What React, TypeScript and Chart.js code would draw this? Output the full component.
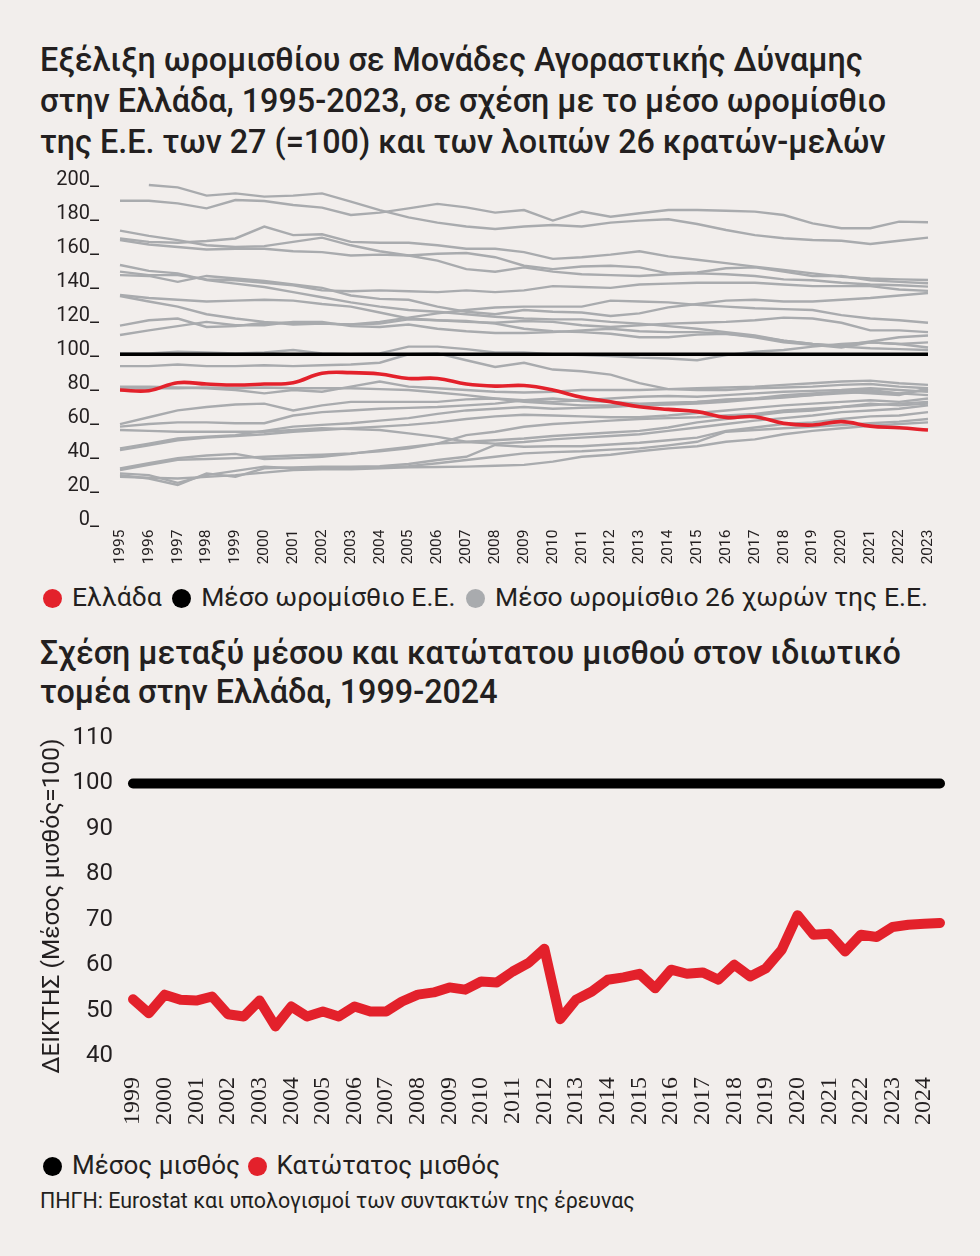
import React, { useEffect, useRef } from "react";
import { Chart, registerables } from "chart.js";

Chart.register(...registerables);

// ---------- Chart 1: hourly wage in PPS, EU27 = 100 ----------
const years1 = ["1995","1996","1997","1998","1999","2000","2001","2002","2003","2004","2005","2006","2007","2008","2009","2010","2011","2012","2013","2014","2015","2016","2017","2018","2019","2020","2021","2022","2023"];
const yTicks1 = [0, 20, 40, 60, 80, 100, 120, 140, 160, 180, 200];

const greece = [79, 78.6, 83.3, 82.5, 81.9, 82.5, 83.3, 88.8, 89.2, 88.4, 85.8, 85.8, 82.5, 81.3, 81.6, 79, 74.7, 72.1, 69.2, 67.6, 66.3, 62.9, 63.3, 59.4, 58.4, 60.4, 57.8, 56.8, 55.5];
const euAverage = [100,100,100,100,100,100,100,100,100,100,100,100,100,100,100,100,100,100,100,100,100,100,100,100,100,100,100,100,100];

const cA = [null, 199.4, 198, 193.2, 194.5, 192.6, 193.2, 194.5, 189.6, 184.7, 180.4, 177.3, 175, 173.6, 175, 175.9, 175, 177.3, 178.5, 179.3, 176.5, 173, 170, 168.1, 167.1, 166.7, 164.8, 166.7, 168.5];
const cB = [190.2, 190.2, 188.6, 185.7, 190.6, 190, 187.7, 186.1, 181.8, 183.2, 185.7, 188.3, 186.3, 183.2, 184.7, 178.5, 183.8, 180.8, 182.8, 184.7, 184.7, 184.3, 183.8, 181.8, 176.9, 174, 174, 177.9, 177.5];
const cC = [172.6, 169.5, 167, 164, 163, 163.5, 166, 168.5, 164, 160.5, 158, 155, 150, 148.5, 151, 148.5, 147, 146.5, 146, 147, 147.5, 147, 146, 144, 143.5, 142, 141, 140.5, 139.7];
const cD = [168, 166, 165.5, 166.5, 168, 175, 170, 170.5, 166, 165.5, 165.5, 164, 162, 162, 160, 156, 157, 158.5, 160.5, 157.5, 155.5, 153.5, 151.5, 149.5, 147.5, 145.5, 144.5, 144, 143.6];
const cE = [167, 164.5, 163, 161.5, 162, 162, 160.5, 160, 158, 158.5, 158, 159, 159.5, 157, 152, 150, 151.5, 152, 151, 147.5, 148, 150.5, 151, 148.5, 146, 146, 143.5, 142.5, 141.7];
const cF = [152.4, 149, 147.5, 143.5, 141.5, 139.5, 136.5, 133.5, 130.5, 128, 126, 125, 123.5, 122, 121, 120.5, 120.5, 119, 118, 116.5, 115, 113, 111, 108, 106, 104.5, 103.5, 103, 102.5];
const cG = [148.5, 146.5, 146.5, 144, 143.5, 142, 140.5, 137.5, 137, 137.5, 137, 136.5, 137.5, 136.5, 137.5, 140, 139.5, 139, 141, 141.5, 142, 142, 142, 141, 140, 140, 140, 138, 137.2];
const cH = [146.5, 146, 142.5, 146, 144.5, 143, 141, 139, 134.5, 132.5, 132, 128, 125, 123.5, 126, 125, 124.5, 122.5, 124, 127.5, 129.5, 131.5, 132, 131, 131, 132, 133, 134.5, 136];
const cI = [134.8, 133, 132, 131, 131.5, 132, 131.5, 129.5, 128, 124.5, 121, 120, 119.5, 118, 115, 113.5, 113, 112, 110, 110, 111.5, 112, 110, 107, 105.5, 104, 107, 106, 104];
const cJ = [134.2, 131, 128, 123.5, 121, 119, 117.5, 118, 117.5, 119, 121.5, 124, 126, 127.5, 128, 128, 128, 131.5, 131, 130.5, 129, 128, 127, 126.5, 126, 123, 121, 120, 118.5];
const cK = [116.8, 120, 121, 116, 116.5, 118.5, 118.5, 118, 117.5, 118, 120.5, 120, 119, 118.5, 119.5, 119, 117, 116, 117, 118, 118.5, 119, 120, 121.5, 121, 118.5, 114, 114, 113];
const cL = [111.3, 114, 116.5, 119, 117, 117, 119, 119, 116.5, 116, 117.5, 115, 113.5, 112.5, 112.5, 113, 114, 115, 113.5, 113, 113, 112, 110.5, 108, 106, 105, 107.5, 110, 111];
const cM = [100.5, 100.5, 101.5, 101, 100.5, 101, 102.5, 100.5, 100, 100.5, 104.5, 104.5, 103, 101, 101, 100, 99.5, 99, 98, 97.5, 96.5, 99.5, 101.5, 102.5, 104.5, 106, 107, 106, 107];
const cN = [93, 93, 94, 93, 93, 93.5, 93, 93.5, 94, 95, 100, 100.5, 96.5, 92.5, 95, 91, 90, 88, 83, 79.5, 79, 79, 80, 80.5, 81, 82, 82.5, 81, 80];
const cP1 = [81, 81, 80.5, 80, 79, 77, 79, 78, 81, 84, 81, 80, 79, 78, 77.5, 78, 79, 79, 79, 79.5, 80, 80.5, 81, 82, 83, 84, 84.5, 83, 82];
const cP2 = [80, 80, 80, 80.5, 80, 80.5, 80, 80, 80, 79.5, 79, 77.5, 76, 74, 73, 72, 73, 74, 75, 75.5, 75, 76, 77, 78, 78.5, 79, 80, 79, 78];
const cP3 = [59, 63, 67, 69, 70.5, 71, 67, 70, 72, 72, 72, 72, 73.5, 74, 72, 71, 70, 70, 70.5, 71, 72, 73, 74, 76, 77, 78, 79, 77, 76];
const cP4 = [57.5, 59, 60, 60, 59.5, 59.5, 64, 66, 67, 68, 68.5, 69, 70, 71, 73, 74, 72.5, 72, 71, 71.5, 72, 73.5, 74, 75, 76, 78, 77, 76, 80];
const cP5 = [55.5, 55, 54.5, 54.5, 54.5, 54.5, 55.5, 56.5, 56, 55.5, 53.5, 51.5, 48.6, 49.5, 50.5, 52, 53, 54, 55, 57, 60, 62, 64, 66, 67, 69, 70, 71, 72];
const cP6 = [44.7, 47.5, 50.5, 51.5, 52.5, 55, 57.5, 58.5, 59.5, 61, 62.5, 65, 67, 68, 69, 68, 68.5, 69, 70, 70.5, 71, 72, 73.5, 74.5, 76, 77, 78, 77, 79];
const cP7 = [43.7, 46.5, 49.5, 51, 52, 53, 54.5, 55.5, 56.5, 57.5, 58.5, 60, 62, 63.5, 64.5, 64, 63.5, 63, 63, 64, 65.5, 67, 68.5, 70, 71, 72, 73, 72, 74];
const cP8 = [33, 36, 39, 40.5, 41.5, 38.5, 39, 39.8, 41.5, 43.7, 45.5, 47.5, 48.5, 47.5, 48.5, 50, 51, 52, 53, 55, 57, 59, 61, 62.5, 64, 66, 67, 68, 70];
const cP9 = [32, 35, 38, 38.5, 39, 39.8, 40.5, 41, 41.8, 43, 44.7, 47.5, 52.5, 54.5, 57.4, 59, 60, 61, 62, 62.5, 63, 64, 65, 67, 68, 69, 71, 70, 71];
const cP10 = [29, 27, 23.2, 30, 28, 33, 33.5, 34, 34, 34.3, 35.5, 37.9, 39.8, 46.7, 45.7, 46, 46, 47, 48, 49.5, 51, 55, 57, 59, 60, 62, 63.5, 64, 66];
const cP11 = [30, 29, 24.5, 29, 31.5, 34, 33, 33, 33, 33.5, 34.3, 36, 37.9, 39.8, 41.8, 42.5, 43, 44, 44.7, 46.5, 48.6, 54.5, 55.5, 56.5, 57.4, 58.4, 59.5, 60.4, 62];
const cP12 = [28, 27.5, 27, 28, 29, 30.5, 32, 32.4, 32.4, 33, 33.6, 33.8, 34, 34.5, 35, 36.9, 39.8, 41, 43, 44.7, 46, 48.6, 50, 53, 55, 56.5, 58, 59, 60];

const otherCountries = [cA, cB, cC, cD, cE, cF, cG, cH, cI, cJ, cK, cL, cM, cN, cP1, cP2, cP3, cP4, cP5, cP6, cP7, cP8, cP9, cP10, cP11, cP12];

// ---------- Chart 2: minimum vs average wage (semi-annual) ----------
const years2 = ["1999","2000","2001","2002","2003","2004","2005","2006","2007","2008","2009","2010","2011","2012","2013","2014","2015","2016","2017","2018","2019","2020","2021","2022","2023","2024"];
const halves = ["Α", "Β"];
const yTicks2 = [40, 50, 60, 70, 80, 90, 100, 110];
const minimumWage = [52.5, 49.4, 53.5, 52.4, 52.2, 53.1, 49.2, 48.7, 52.2, 46.5, 50.9, 48.7, 49.8, 48.7, 50.9, 49.8, 49.8, 52, 53.5, 54, 55.1, 54.6, 56.4, 56.2, 58.6, 60.5, 63.6, 48.1, 52.4, 54.2, 56.8, 57.3, 58.1, 54.9, 59, 58.1, 58.4, 56.8, 60.1, 57.5, 59.3, 63.4, 71, 66.7, 66.9, 63, 66.7, 66.2, 68.4, 68.9, 69.1, 69.3];
const averageWage = [100,100,100,100,100,100,100,100,100,100,100,100,100,100,100,100,100,100,100,100,100,100,100,100,100,100,100,100,100,100,100,100,100,100,100,100,100,100,100,100,100,100,100,100,100,100,100,100,100,100,100,100];

const RED = "#e3212b";
const GRAY = "#a9abae";
const INK = "#231f20";
const BG = "#f2eeec";
const FONT = "Roboto, 'Noto Sans', sans-serif";

function TopChart() {
  const ref = useRef<HTMLCanvasElement>(null);
  useEffect(() => {
    if (!ref.current) return;
    const grayDs = otherCountries.map((d, i) => ({
      label: "c" + i,
      data: d,
      borderColor: GRAY,
      borderWidth: 2.4,
      pointRadius: 0,
      tension: 0,
      clip: false as const,
    }));
    const chart = new Chart(ref.current, {
      type: "line",
      data: {
        labels: years1,
        datasets: [
          { label: "Ελλάδα", data: greece, borderColor: RED, borderWidth: 3.6, pointRadius: 0, tension: 0.4, clip: false as const },
          { label: "Μέσο ωρομίσθιο Ε.Ε.", data: euAverage, borderColor: "#000", borderWidth: 3.6, pointRadius: 0, tension: 0, clip: false as const },
          ...grayDs,
        ] as any,
      },
      options: {
        animation: false,
        responsive: false,
        layout: { padding: { top: 19, right: 52, left: 0, bottom: 0 } },
        plugins: { legend: { display: false }, tooltip: { enabled: false } },
        scales: {
          x: {
            grid: { display: false, drawTicks: false, tickLength: 0 },
            border: { display: false },
            ticks: { autoSkip: false, maxRotation: 90, minRotation: 90, padding: 5, color: INK, font: { family: FONT, size: 15.5 } },
            afterFit: (s: any) => { s.height = 50.5; s.paddingLeft = 0; s.paddingRight = 0; },
          },
          y: {
            min: 0,
            max: 200,
            afterBuildTicks: (s: any) => { s.ticks = yTicks1.map((v) => ({ value: v })); },
            grid: { display: false, drawTicks: false, tickLength: 0 },
            border: { display: false },
            ticks: { padding: 21, labelOffset: -4.5, color: INK, font: { family: FONT, size: 20 }, callback: (v: any) => v + "_" },
            afterFit: (s: any) => { s.width = 120; s.paddingTop = 0; s.paddingBottom = 0; },
          },
        },
      },
    });
    return () => chart.destroy();
  }, []);
  return <canvas ref={ref} width={980} height={410} style={{ position: "absolute", left: 0, top: 165, width: 980, height: 410 }} />;
}

function BottomChart() {
  const ref = useRef<HTMLCanvasElement>(null);
  useEffect(() => {
    if (!ref.current) return;
    const labels = years2.flatMap((y) => halves.map((h) => y + " " + h));
    const chart = new Chart(ref.current, {
      type: "line",
      data: {
        labels,
        datasets: [
          { label: "Κατώτατος μισθός", data: minimumWage, borderColor: RED, borderWidth: 10, borderJoinStyle: "round", borderCapStyle: "round", pointRadius: 0, tension: 0, clip: false as const },
          { label: "Μέσος μισθός", data: averageWage, borderColor: "#000", borderWidth: 10, borderCapStyle: "round", pointRadius: 0, tension: 0, clip: false as const },
        ] as any,
      },
      options: {
        animation: false,
        responsive: false,
        layout: { padding: { top: 23, right: 40, left: 0, bottom: 0 } },
        plugins: { legend: { display: false }, tooltip: { enabled: false } },
        scales: {
          x: {
            grid: { display: false, drawTicks: false, tickLength: 0 },
            border: { display: false },
            ticks: {
              autoSkip: false, maxRotation: 90, minRotation: 90, padding: 21, color: INK,
              font: { family: "'Liberation Serif', 'DejaVu Serif', serif", size: 24 },
              callback: (_v: any, i: number) => (i % 2 === 0 ? years2[i / 2] : ""),
            },
            afterFit: (s: any) => { s.height = 79; s.paddingLeft = 0; s.paddingRight = 0; },
          },
          y: {
            min: 40,
            max: 110,
            afterBuildTicks: (s: any) => { s.ticks = yTicks2.map((v) => ({ value: v })); },
            grid: { display: false, drawTicks: false, tickLength: 0 },
            border: { display: false },
            ticks: { padding: 20, color: INK, font: { family: FONT, size: 24 } },
            title: { display: true, text: "ΔΕΙΚΤΗΣ (Μέσος μισθός=100)\u00A0\u00A0\u00A0", color: INK, font: { family: FONT, size: 24.5 }, padding: { top: 38, bottom: 0 } },
            afterFit: (s: any) => { s.width = 133; s.paddingTop = 0; s.paddingBottom = 0; },
          },
        },
      },
    });
    return () => chart.destroy();
  }, []);
  return <canvas ref={ref} width={980} height={420} style={{ position: "absolute", left: 0, top: 715, width: 980, height: 420 }} />;
}

function Dot({ color }: { color: string }) {
  return <span style={{ display: "inline-block", width: 19, height: 19, borderRadius: "50%", background: color, marginRight: 10, verticalAlign: "-2px" }} />;
}

export default function App() {
  const title: React.CSSProperties = { position: "absolute", left: 40, margin: 0, fontFamily: FONT, fontWeight: 500, fontSize: 32.3, color: INK, whiteSpace: "nowrap" };
  return (
    <div style={{ position: "relative", width: 980, height: 1256, background: BG, overflow: "hidden" }}>
      <style>{`body{margin:0;background:${BG};}`}</style>
      <div style={{ ...title, top: 40, lineHeight: "41px" }}>
        Εξέλιξη ωρομισθίου σε Μονάδες Αγοραστικής Δύναμης<br />
        στην Ελλάδα, 1995-2023, σε σχέση με το μέσο ωρομίσθιο<br />
        της Ε.Ε. των 27 (=100) και των λοιπών 26 κρατών-μελών
      </div>
      <TopChart />
      <div style={{ position: "absolute", left: 43, top: 581, fontFamily: FONT, fontSize: 26.5, color: INK, whiteSpace: "nowrap", lineHeight: "32px" }}>
        <Dot color={RED} />Ελλάδα <span style={{ marginLeft: 4 }} /><Dot color="#000" />Μέσο ωρομίσθιο Ε.Ε. <span style={{ marginLeft: 4 }} /><Dot color={GRAY} />Μέσο ωρομίσθιο 26 χωρών της Ε.Ε.
      </div>
      <div style={{ ...title, top: 634, lineHeight: "39px" }}>
        Σχέση μεταξύ μέσου και κατώτατου μισθού στον ιδιωτικό<br />
        τομέα στην Ελλάδα, 1999-2024
      </div>
      <BottomChart />
      <div style={{ position: "absolute", left: 43, top: 1149, fontFamily: FONT, fontSize: 26, color: INK, whiteSpace: "nowrap", lineHeight: "32px" }}>
        <Dot color="#000" />Μέσος μισθός <span style={{ marginLeft: 1 }} /><Dot color={RED} />Κατώτατος μισθός
      </div>
      <div style={{ position: "absolute", left: 40, top: 1188, fontFamily: FONT, fontSize: 21.4, color: INK, whiteSpace: "nowrap", lineHeight: "26px" }}>
        ΠΗΓΗ: Eurostat και υπολογισμοί των συντακτών της έρευνας
      </div>
    </div>
  );
}
